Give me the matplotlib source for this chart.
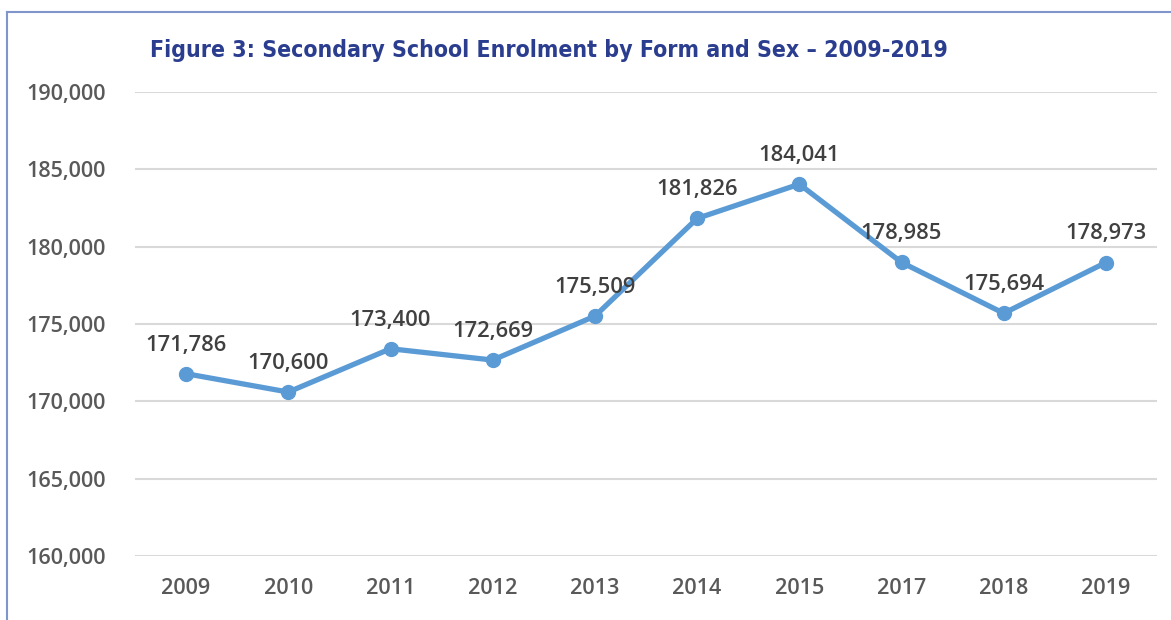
import matplotlib
matplotlib.use('Agg')
import matplotlib.pyplot as plt
from matplotlib.lines import Line2D
from matplotlib.ticker import FuncFormatter

years = ['2009', '2010', '2011', '2012', '2013', '2014', '2015', '2017', '2018', '2019']
enrolment = [171786, 170600, 173400, 172669, 175509, 181826, 184041, 178985, 175694, 178973]

plt.rcParams['font.family'] = ['Open Sans', 'DejaVu Sans']

W, H = 1171, 620
fig = plt.figure(figsize=(W / 100, H / 100), dpi=100)
ax = fig.add_axes([135 / W, 1 - 556 / H, (1157 - 135) / W, (556 - 92) / H])

x = list(range(len(years)))
ax.plot(x, enrolment, color='#5B9BD5', linewidth=3.8, marker='o', markersize=10,
        solid_capstyle='round', solid_joinstyle='round', zorder=3)

for xi, v in zip(x, enrolment):
    ax.annotate('{:,}'.format(v), (xi, v), xytext=(0, 13), textcoords='offset points',
                ha='center', va='bottom', fontsize=15.8, fontweight='semibold',
                color='#404040', zorder=4)

ax.set_xlim(-0.5, len(years) - 0.5)
ax.set_ylim(160000, 190000)
ax.set_yticks(range(160000, 190001, 5000))
ax.yaxis.set_major_formatter(FuncFormatter(lambda v, p: '{:,}'.format(int(v))))
ax.set_xticks(x)
ax.set_xticklabels(years)
ax.tick_params(axis='both', length=0, labelsize=15.6, labelcolor='#595959')
for lbl in ax.get_xticklabels() + ax.get_yticklabels():
    lbl.set_fontweight('semibold')
ax.tick_params(axis='x', pad=16)
ax.tick_params(axis='y', pad=21)
ax.grid(axis='y', color='#D9D9D9', linewidth=1.5)
ax.set_axisbelow(True)
for s in ax.spines.values():
    s.set_visible(False)

# outer frame (cropped at right and bottom)
fig.add_artist(Line2D([7 / W, 7 / W], [0, 1 - 12 / H], color='#7F95CC', linewidth=1.5))
fig.add_artist(Line2D([7 / W, 1], [1 - 12 / H, 1 - 12 / H], color='#7F95CC', linewidth=1.5))

fig.text(150 / W, 1 - 51 / H, 'Figure 3: Secondary School Enrolment by Form and Sex – 2009-2019',
         family='DejaVu Sans', fontstretch='condensed', fontweight='bold', fontsize=16.6,
         color='#2B3D8F', ha='left', va='center')

fig.savefig('out.png', dpi=100)
